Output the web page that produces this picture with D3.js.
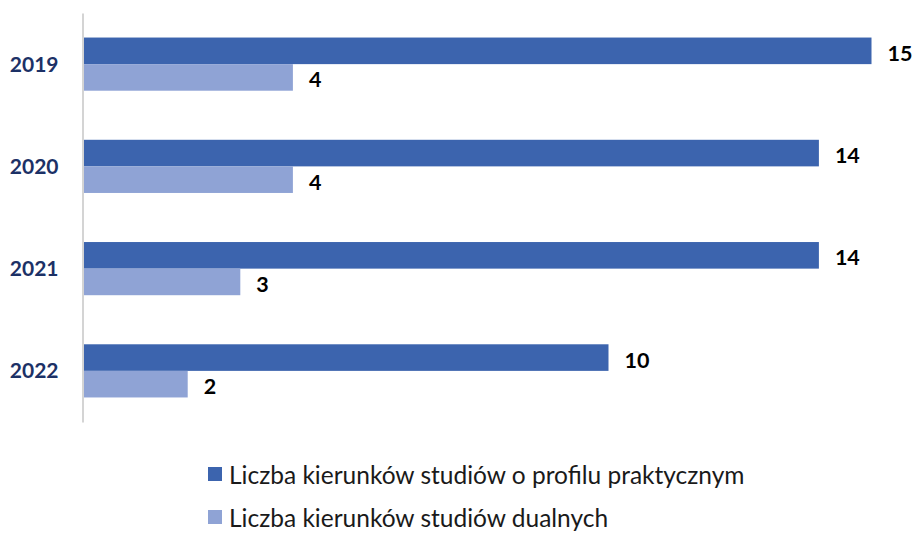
<!DOCTYPE html>
<html>
<head>
<meta charset="utf-8">
<script src="https://cdn.jsdelivr.net/npm/d3@7"></script>
<style>
  html, body { margin: 0; padding: 0; background: #fff; }
  svg { display: block; }
</style>
</head>
<body>
<svg id="chart" width="915" height="533"></svg>
<script>
// Years on the vertical axis
const years = ["2019", "2020", "2021", "2022"];
// Number of practical-profile programmes per year
const practical = [15, 14, 14, 10];
// Number of dual-study programmes per year
const dual = [4, 4, 3, 2];
const seriesNames = [
  "Liczba kierunków studiów o profilu praktycznym",
  "Liczba kierunków studiów dualnych"
];
const colors = ["#3C64AE", "#8FA3D5"];

const font = "Lato, 'Open Sans', sans-serif";
const svg = d3.select("#chart");

const plot = { left: 82.5, top: 13, bottom: 422 };

const x = d3.scaleLinear().domain([0, 15]).range([plot.left, plot.left + 15 * 52.6]);
const y = d3.scaleBand().domain(years).range([plot.top, plot.bottom]).paddingInner(0.48).paddingOuter(0.24);
const ySub = d3.scaleBand().domain([0, 1]).range([0, y.bandwidth()]);

const rows = years.map((yr, i) => ({ year: yr, values: [practical[i], dual[i]] }));

const groups = svg.append("g").selectAll("g")
  .data(rows).join("g")
  .attr("transform", d => `translate(0,${y(d.year)})`);

groups.selectAll("rect")
  .data(d => d.values.map((v, k) => ({ v, k })))
  .join("rect")
  .attr("x", x(0))
  .attr("y", d => ySub(d.k))
  .attr("width", d => x(d.v) - x(0))
  .attr("height", ySub.bandwidth())
  .attr("fill", d => colors[d.k]);

groups.selectAll("text.val")
  .data(d => d.values.map((v, k) => ({ v, k })))
  .join("text")
  .attr("class", "val")
  .attr("x", d => x(d.v) + 16)
  .attr("y", d => ySub(d.k) + ySub.bandwidth() / 2 + 2)
  .attr("dominant-baseline", "central")
  .attr("font-family", font)
  .attr("font-weight", "bold")
  .attr("font-size", 21.5)
  .attr("fill", "#000")
  .text(d => d.v);

// Vertical axis line with category labels
const yAxis = d3.axisLeft(y).tickSize(0).tickPadding(24);
const axisG = svg.append("g")
  .attr("transform", `translate(${plot.left},0)`)
  .call(yAxis);
axisG.select(".domain").attr("stroke", "#D4D4D4").attr("stroke-width", 2);
axisG.selectAll("text")
  .attr("font-family", font)
  .attr("font-weight", "bold")
  .attr("font-size", 21)
  .attr("fill", "#1C3166")
  .attr("dy", "0.36em");

// Legend
const legend = svg.append("g").attr("transform", "translate(208,467)");
const items = legend.selectAll("g").data(seriesNames).join("g")
  .attr("transform", (d, i) => `translate(0,${i * 43})`);
items.append("rect")
  .attr("width", 14).attr("height", 14)
  .attr("fill", (d, i) => colors[i]);
items.append("text")
  .attr("x", 21).attr("y", 7)
  .attr("dominant-baseline", "central")
  .attr("font-family", font)
  .attr("font-size", 24.5)
  .attr("fill", "#1a1a1a")
  .text(d => d);
</script>
</body>
</html>
